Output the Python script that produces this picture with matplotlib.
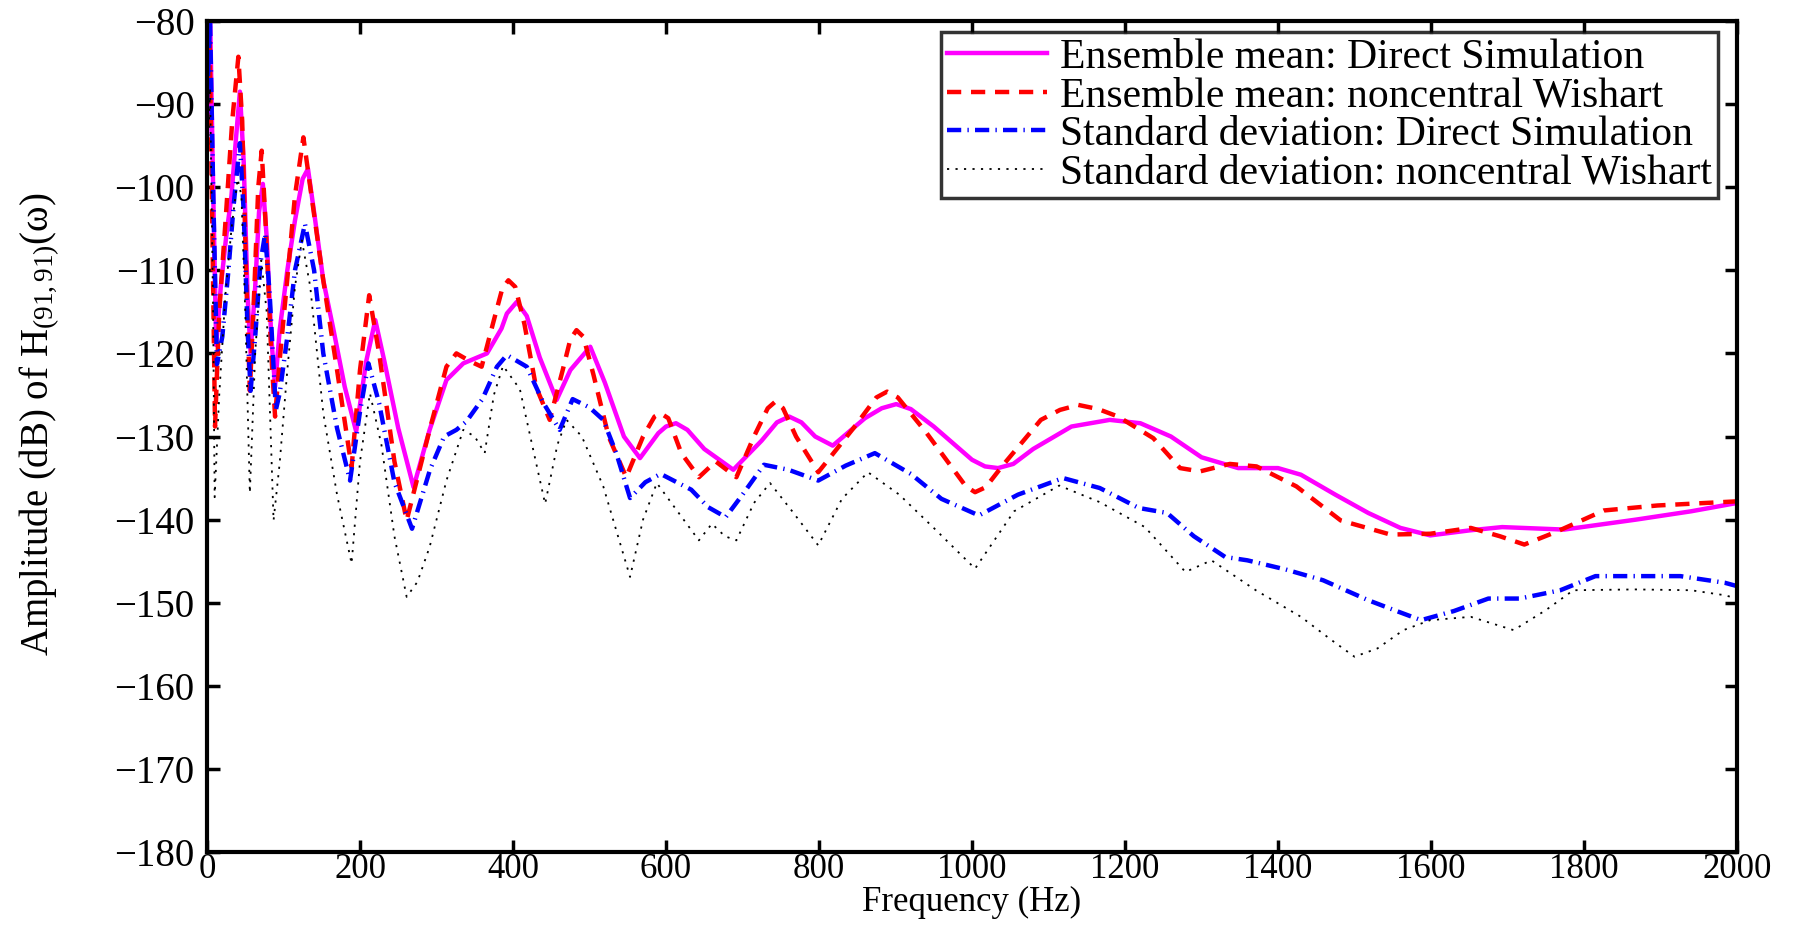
import matplotlib
matplotlib.use("Agg")
import matplotlib.pyplot as plt

plt.rcParams["font.family"] = ["Liberation Serif", "DejaVu Serif"]
plt.rcParams["mathtext.fontset"] = "custom"
plt.rcParams["mathtext.rm"] = "Liberation Serif"
plt.rcParams["mathtext.it"] = "Liberation Serif:italic"

# --- data (frequency in Hz, amplitude in dB) ----------------------------------
mean_ds_f = [0, 4, 8, 12, 18, 25, 32, 38, 43, 48, 53, 57, 63, 68, 73, 78, 84, 89,
             95, 105, 115, 125, 132, 140, 152, 165, 180, 195, 208, 220, 232, 250,
             270, 291, 313, 335, 366, 385, 392, 405, 418, 435, 457, 475, 501, 520,
             545, 566, 590, 600, 613, 628, 650, 688, 725, 745, 761, 777, 795, 818,
             860, 882, 901, 920, 950, 1000, 1017, 1034, 1054, 1080, 1130, 1180,
             1220, 1260, 1300, 1348, 1400, 1430, 1475, 1518, 1560, 1599, 1650,
             1693, 1774, 1868, 1940, 2000]
mean_ds = [-95, -79, -100, -119, -112, -106, -101, -94, -88.5, -97, -113, -120,
           -112, -103, -99.6, -106, -118, -124, -117.2, -110, -104, -99, -97.8,
           -103, -111.2, -117, -124, -129.4, -121, -116, -121, -129, -136.1,
           -129.2, -123.2, -121.2, -120, -117, -115.2, -113.8, -115.5, -120.5,
           -125.6, -122, -119.2, -123.5, -130, -132.6, -129.6, -128.8, -128.4,
           -129.2, -131.5, -134, -130.5, -128.3, -127.6, -128.3, -130, -131.1,
           -127.8, -126.6, -126.1, -126.7, -128.8, -132.8, -133.6, -133.8, -133.3,
           -131.5, -128.8, -128, -128.4, -130, -132.5, -133.8, -133.8, -134.6,
           -137, -139.2, -141, -141.9, -141.3, -140.9, -141.2, -140, -139, -138]

mean_nw_f = [0, 3, 7, 10.5, 16, 25, 33, 41, 46, 52, 56, 62, 67, 71.5, 77, 84, 89,
             95, 105, 115, 126, 135, 152, 170, 189, 200, 212, 225, 245, 261, 275,
             291, 313, 326, 345, 359, 375, 386, 394, 403, 415, 430, 448, 465, 475,
             483, 492, 505, 525, 548, 570, 585, 593, 603, 620, 643, 665, 692, 715,
             733, 743, 753, 770, 799, 845, 875, 889, 903, 940, 980, 992, 1004, 1018,
             1040, 1090, 1115, 1139, 1165, 1191, 1237, 1272, 1298, 1337, 1372,
             1424, 1482, 1547, 1599, 1652, 1690, 1722, 1763, 1826, 1896, 2000]
mean_nw = [-90, -79, -105, -128.8, -115, -103, -92, -84.3, -92, -113, -124.5,
           -112, -100, -95.6, -105, -120, -127.6, -120.8, -111, -101, -94, -100,
           -111.2, -122, -133.7, -122, -113, -120, -133, -140.1, -135, -129.2,
           -121.6, -120, -121, -121.6, -116, -112.2, -111.2, -112, -116.5, -124,
           -128, -122, -118.3, -117.2, -118, -122.5, -130, -134.9, -130, -127.6,
           -127.2, -127.8, -132, -134.9, -133, -134.9, -130, -126.6, -125.8,
           -126.6, -130, -134.3, -129, -125.3, -124.6, -125.3, -129.5, -134.5,
           -136, -136.7, -136.1, -133.5, -128, -126.8, -126.2, -126.7, -127.6,
           -130.2, -133.8, -134.2, -133.3, -133.6, -136, -140.1, -141.8, -141.7,
           -141, -142, -143, -141.5, -138.9, -138.3, -137.8]

std_ds_f = [0, 4, 8, 13, 20, 28, 35, 43, 48, 53, 57, 63, 70, 76, 82, 90, 95, 105,
            115, 128, 140, 152, 170, 187, 200, 211, 225, 245, 268, 291.5, 310, 326,
            339, 360, 379, 392, 418, 440, 461, 478, 500, 518, 535, 553, 573, 593,
            633, 655, 678, 700, 728, 760, 799, 835, 873, 920, 960, 1009, 1060,
            1119, 1167, 1218, 1255, 1290, 1331, 1360, 1410, 1459, 1518, 1555, 1587,
            1630, 1675, 1716, 1769, 1815, 1870, 1926, 1984, 2000]
std_ds = [-90, -80, -100, -121.3, -118, -110, -102, -94.7, -103, -117, -124.5,
          -118, -109, -105.6, -113, -126.8, -124.8, -118, -110, -104.4, -110,
          -120, -129, -135.3, -127, -121.2, -126, -135.5, -141.1, -134, -130,
          -129.2, -128.2, -125.5, -121.6, -120.2, -121.6, -126, -129.2, -125.5,
          -126.5, -128, -132, -137.4, -135.5, -134.5, -136.4, -138.5, -139.7,
          -137, -133.4, -134, -135.3, -133.5, -132, -134.5, -137.5, -139.5, -137,
          -135, -136.2, -138.6, -139.2, -142, -144.5, -144.9, -146, -147.3,
          -149.7, -151, -152.1, -151, -149.5, -149.5, -148.5, -146.8, -146.8,
          -146.8, -147.6, -148]

std_nw_f = [0, 4, 8, 10, 16, 24, 32, 40, 45, 50, 56, 63, 71, 78, 87, 95, 105, 115,
            124, 135, 152, 170, 189, 200, 213, 228, 245, 261, 275, 291, 313, 335,
            350, 363, 375, 387, 409, 425, 442, 458, 470, 490, 518, 553, 570, 588,
            615, 643, 660, 677, 692, 715, 736, 765, 799, 830, 864, 905, 950, 1004,
            1055, 1114, 1167, 1226, 1279, 1313, 1371, 1430, 1470, 1500, 1530, 1564,
            1599, 1652, 1708, 1750, 1786, 1867, 1940, 1984, 2000]
std_nw = [-100, -88, -115, -137.3, -125, -113, -105, -99, -101, -115, -136.8,
          -120, -108.8, -115, -140.1, -133.2, -122, -112, -106.4, -112, -127.2,
          -137, -145.3, -133, -124.8, -131, -142, -149.3, -147.5, -143.3, -135.3,
          -129.2, -130, -132, -125, -121.5, -124.3, -131, -138.1, -131, -128,
          -130, -136, -146.9, -140, -135.6, -139, -142.5, -140.5, -142, -142.5,
          -138, -135.6, -139, -143.1, -137.5, -134.3, -137, -141, -145.9, -139,
          -135.9, -137.9, -140.9, -146.3, -144.9, -148.5, -151.7, -154.5, -156.5,
          -155.5, -153.3, -152.1, -151.7, -153.3, -150.9, -148.5, -148.4, -148.5,
          -149.1, -149.5]

labels = ["Ensemble mean: Direct Simulation",
          "Ensemble mean: noncentral Wishart",
          "Standard deviation: Direct Simulation",
          "Standard deviation: noncentral Wishart"]

x_ticks = list(range(0, 2001, 200))
y_ticks = list(range(-180, -79, 10))

FS = 28       # y tick / y label size
FS_X = 25     # x tick labels and x label (tight bottom margin)
FS_LEG = 30   # legend text (wider in the reference)

fig = plt.figure(figsize=(18, 9.25), dpi=100)
ax = fig.add_axes([0.115, 0.0789, 0.85, 0.8984])

ax.plot(mean_ds_f, mean_ds, color="#ff00ff", lw=3.2, ls="-", label=labels[0])
ax.plot(mean_nw_f, mean_nw, color="#ff0000", lw=3.2, ls=(0, (3.2, 2.2)), label=labels[1])
ax.plot(std_ds_f, std_ds, color="#0000ff", lw=3.2, ls=(0, (3.2, 1.4, 0.3, 1.4)), label=labels[2])
ax.plot(std_nw_f, std_nw, color="black", lw=1.3, ls=(0, (1.2, 3.5)), label=labels[3])

ax.set_xlim(0, 2000)
ax.set_ylim(-180, -80)
ax.set_xticks(x_ticks)
ax.set_yticks(y_ticks)
ax.tick_params(axis="both", which="major", direction="in", length=9, width=2.5,
               top=True, right=True)
ax.tick_params(axis="x", pad=1, labelsize=FS_X)
ax.tick_params(axis="y", pad=9, labelsize=FS)
for sp in ax.spines.values():
    sp.set_linewidth(3)

ax.set_xlabel("Frequency (Hz)", fontsize=FS_X, labelpad=0)
ax.set_ylabel("Amplitude (dB) of H$_{(91,91)}$(ω)", fontsize=FS)
ax.yaxis.set_label_coords(-0.095, 0.515)

leg = ax.legend(loc="upper right", bbox_to_anchor=(0.9876, 0.9868), fontsize=FS_LEG,
                frameon=True, fancybox=False, borderaxespad=0, borderpad=0.15,
                labelspacing=0.0, handlelength=2.4, handletextpad=0.3)
leg.get_frame().set_edgecolor("black")
leg.get_frame().set_linewidth(2.5)

fig.savefig("out.png", dpi=100)
